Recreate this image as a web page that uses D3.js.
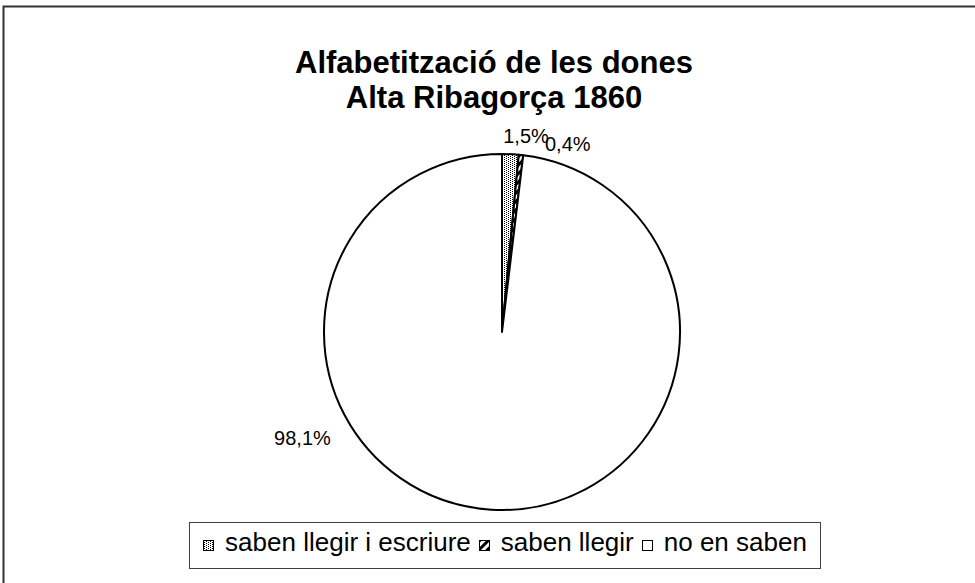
<!DOCTYPE html>
<html>
<head>
<meta charset="utf-8">
<script src="https://cdn.jsdelivr.net/npm/d3@7"></script>
<style>
body { margin: 0; background: #fff; }
svg { display: block; font-family: "Liberation Sans", Arial, sans-serif; }
</style>
</head>
<body>
<div id="graphic"></div>
<script>
// data
var categories = ["saben llegir i escriure", "saben llegir", "no en saben"];
var values = [1.5, 0.4, 98.1];
var valueLabels = ["1,5%", "0,4%", "98,1%"];
var titleLines = ["Alfabetització de les dones", "Alta Ribagorça 1860"];

var width = 975, height = 583;
var cx = 502, cy = 332, radius = 178;

// label placement (angle in degrees from 12 o'clock, distance from centre)
var labelAngle = [7.0, 19.3, 242];
var labelDist = [197, 199, 226];

var svg = d3.select("#graphic").append("svg")
    .attr("width", width)
    .attr("height", height);

var defs = svg.append("defs");

var dots = defs.append("pattern")
    .attr("id", "dots")
    .attr("patternUnits", "userSpaceOnUse")
    .attr("width", 4).attr("height", 2);
dots.append("rect").attr("width", 4).attr("height", 2).attr("fill", "#fff");
dots.append("rect").attr("x", 0).attr("y", 0).attr("width", 1).attr("height", 1).attr("fill", "#000");
dots.append("rect").attr("x", 2).attr("y", 1).attr("width", 1).attr("height", 1).attr("fill", "#000");

var hatch = defs.append("pattern")
    .attr("id", "hatch")
    .attr("patternUnits", "userSpaceOnUse")
    .attr("width", 6).attr("height", 6)
    .attr("patternTransform", "rotate(45)");
hatch.append("rect").attr("width", 6).attr("height", 6).attr("fill", "#fff");
hatch.append("rect").attr("width", 3).attr("height", 6).attr("fill", "#000");

var fills = ["url(#dots)", "url(#hatch)", "#fff"];

// outer frame (only top and left edges show)
svg.append("rect")
    .attr("x", 3.5).attr("y", 6.5)
    .attr("width", 1000).attr("height", 1000)
    .attr("fill", "none")
    .attr("stroke", "#333")
    .attr("stroke-width", 2);

// title
svg.append("text")
    .attr("text-anchor", "middle")
    .style("font-weight", "bold")
    .style("font-size", "31px")
    .selectAll("tspan")
    .data(titleLines)
    .enter().append("tspan")
        .attr("x", 494)
        .attr("y", function(d, i) { return 73 + i * 35; })
        .text(function(d) { return d; });

// pie
var pie = d3.pie().sort(null).value(function(d) { return d; });
var arc = d3.arc().innerRadius(0).outerRadius(radius);
var arcs = pie(values);

var g = svg.append("g").attr("transform", "translate(" + cx + "," + cy + ")");

g.selectAll("path")
    .data(arcs)
    .enter().append("path")
        .attr("d", arc)
        .attr("fill", function(d, i) { return fills[i]; })
        .attr("stroke", "#000")
        .attr("stroke-width", 2)
        .attr("stroke-linejoin", "round");

g.selectAll("text.lbl")
    .data(arcs)
    .enter().append("text")
        .attr("class", "lbl")
        .attr("x", function(d, i) { return labelDist[i] * Math.sin(labelAngle[i] * Math.PI / 180); })
        .attr("y", function(d, i) { return -labelDist[i] * Math.cos(labelAngle[i] * Math.PI / 180); })
        .attr("dy", "0.35em")
        .attr("text-anchor", "middle")
        .style("font-size", "20px")
        .text(function(d, i) { return valueLabels[i]; });

// legend
var legBox = { x: 189.5, y: 522.5, w: 631, h: 46 };
var legend = svg.append("g").attr("class", "legend");

legend.append("rect")
    .attr("x", legBox.x).attr("y", legBox.y)
    .attr("width", legBox.w).attr("height", legBox.h)
    .attr("fill", "#fff")
    .attr("stroke", "#404040")
    .attr("stroke-width", 1);

var keySize = 10, keyGap = 12, itemGap = 8;
var items = legend.selectAll("g.item")
    .data(categories)
    .enter().append("g")
        .attr("class", "item");

items.append("rect")
    .attr("width", keySize).attr("height", keySize)
    .attr("y", 540.5)
    .attr("fill", function(d, i) { return fills[i]; })
    .attr("stroke", "#000")
    .attr("stroke-width", 1);

items.append("text")
    .attr("y", 551)
    .style("font-size", "26px")
    .text(function(d) { return d; });

var widths = [];
items.select("text").each(function() { widths.push(this.getComputedTextLength()); });
var total = d3.sum(widths) + categories.length * (keySize + keyGap) + (categories.length - 1) * itemGap;
var xpos = legBox.x + (legBox.w - total) / 2;
items.each(function(d, i) {
    var it = d3.select(this);
    it.select("rect").attr("x", Math.round(xpos) + 0.5);
    it.select("text").attr("x", xpos + keySize + keyGap);
    xpos += keySize + keyGap + widths[i] + itemGap;
});
</script>
</body>
</html>
